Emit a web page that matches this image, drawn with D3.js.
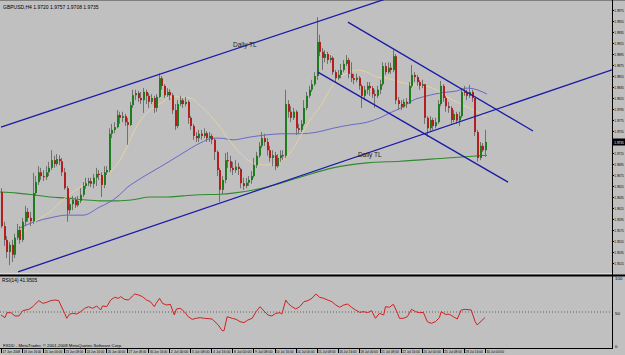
<!DOCTYPE html>
<html>
<head>
<meta charset="utf-8">
<script src="https://cdn.jsdelivr.net/npm/d3@7/dist/d3.min.js"></script>
<style>
  body { margin: 0; background: #c0c0c0; }
  svg { display: block; font-family: "Liberation Sans", Arial, sans-serif; }
  .narrow { font-family: "Liberation Sans Narrow", "Liberation Sans", Arial, sans-serif; }
</style>
</head>
<body>
<svg id="chart" width="625" height="355"></svg>
<script>
// GBPUSD H4, 17 Jun - 30 Jul 2008
var symbol = "GBPUSD,H4";
var firstOpen = 1.9644;

var closes = [
  1.9582,1.9557,1.9535,1.9548,1.9530,1.9561,1.9575,1.9557,1.9590,1.9608,
  1.9597,1.9591,1.9642,1.9662,1.9680,1.9673,1.9671,1.9680,1.9688,1.9702,
  1.9695,1.9704,1.9700,1.9680,1.9651,1.9611,1.9622,1.9630,1.9620,1.9628,
  1.9639,1.9655,1.9660,1.9664,1.9659,1.9670,1.9677,1.9675,1.9657,1.9680,
  1.9684,1.9750,1.9757,1.9762,1.9784,1.9779,1.9782,1.9771,1.9766,1.9802,
  1.9820,1.9824,1.9815,1.9811,1.9826,1.9819,1.9808,1.9815,1.9797,1.9817,
  1.9851,1.9837,1.9820,1.9826,1.9820,1.9793,1.9764,1.9804,1.9811,1.9804,
  1.9808,1.9779,1.9764,1.9746,1.9742,1.9750,1.9746,1.9751,1.9742,1.9746,
  1.9739,1.9717,1.9684,1.9648,1.9666,1.9702,1.9700,1.9688,1.9684,1.9690,
  1.9686,1.9660,1.9655,1.9661,1.9666,1.9673,1.9693,1.9710,1.9728,1.9742,
  1.9735,1.9720,1.9706,1.9711,1.9691,1.9706,1.9711,1.9710,1.9804,1.9790,
  1.9779,1.9790,1.9760,1.9757,1.9768,1.9797,1.9819,1.9830,1.9840,1.9855,
  1.9917,1.9899,1.9888,1.9895,1.9884,1.9888,1.9862,1.9851,1.9857,1.9866,
  1.9877,1.9884,1.9859,1.9851,1.9848,1.9852,1.9837,1.9819,1.9830,1.9837,
  1.9833,1.9822,1.9819,1.9830,1.9840,1.9873,1.9862,1.9870,1.9866,1.9891,
  1.9811,1.9804,1.9799,1.9808,1.9805,1.9837,1.9857,1.9853,1.9844,1.9837,
  1.9840,1.9779,1.9760,1.9775,1.9764,1.9771,1.9804,1.9837,1.9815,1.9800,
  1.9797,1.9775,1.9786,1.9774,1.9782,1.9826,1.9825,1.9819,1.9826,1.9815,
  1.9753,1.9706,1.9728,1.9720,1.9735];

var highs = [
  1.9651,1.9590,1.9564,1.9553,1.9557,1.9568,1.9586,1.9582,1.9597,1.9619,
  1.9615,1.9608,1.9679,1.9673,1.9691,1.9688,1.9684,1.9691,1.9699,1.9720,
  1.9710,1.9713,1.9711,1.9706,1.9688,1.9655,1.9633,1.9637,1.9635,1.9637,
  1.9651,1.9662,1.9670,1.9670,1.9670,1.9677,1.9688,1.9684,1.9680,1.9691,
  1.9691,1.9760,1.9768,1.9771,1.9793,1.9790,1.9790,1.9786,1.9779,1.9808,
  1.9830,1.9830,1.9828,1.9826,1.9833,1.9830,1.9824,1.9822,1.9819,1.9822,
  1.9860,1.9855,1.9840,1.9833,1.9831,1.9824,1.9804,1.9811,1.9819,1.9815,
  1.9817,1.9811,1.9782,1.9768,1.9753,1.9757,1.9757,1.9760,1.9755,1.9753,
  1.9750,1.9742,1.9720,1.9688,1.9673,1.9715,1.9717,1.9710,1.9699,1.9702,
  1.9697,1.9688,1.9670,1.9670,1.9673,1.9682,1.9706,1.9717,1.9735,1.9753,
  1.9750,1.9742,1.9728,1.9720,1.9717,1.9713,1.9720,1.9720,1.9830,1.9811,
  1.9800,1.9797,1.9793,1.9768,1.9775,1.9811,1.9826,1.9837,1.9848,1.9862,
  1.9962,1.9930,1.9906,1.9902,1.9899,1.9893,1.9891,1.9866,1.9866,1.9877,
  1.9884,1.9893,1.9888,1.9880,1.9859,1.9859,1.9855,1.9840,1.9837,1.9844,
  1.9844,1.9837,1.9830,1.9837,1.9848,1.9880,1.9879,1.9880,1.9879,1.9902,
  1.9895,1.9817,1.9811,1.9813,1.9815,1.9844,1.9875,1.9862,1.9857,1.9848,
  1.9848,1.9840,1.9782,1.9782,1.9779,1.9779,1.9811,1.9846,1.9840,1.9819,
  1.9808,1.9800,1.9793,1.9790,1.9790,1.9833,1.9837,1.9830,1.9839,1.9830,
  1.9815,1.9757,1.9735,1.9733,1.9757];

var lows = [
  1.9579,1.9546,1.9524,1.9511,1.9517,1.9524,1.9557,1.9550,1.9553,1.9582,
  1.9590,1.9582,1.9586,1.9637,1.9657,1.9666,1.9664,1.9666,1.9673,1.9684,
  1.9688,1.9691,1.9693,1.9673,1.9648,1.9590,1.9604,1.9611,1.9615,1.9617,
  1.9624,1.9635,1.9650,1.9655,1.9653,1.9651,1.9655,1.9666,1.9635,1.9651,
  1.9675,1.9680,1.9742,1.9751,1.9760,1.9768,1.9771,1.9764,1.9730,1.9764,
  1.9797,1.9811,1.9808,1.9804,1.9788,1.9804,1.9797,1.9804,1.9788,1.9790,
  1.9815,1.9830,1.9815,1.9817,1.9811,1.9786,1.9757,1.9760,1.9800,1.9797,
  1.9800,1.9768,1.9757,1.9739,1.9735,1.9735,1.9739,1.9742,1.9735,1.9735,
  1.9731,1.9702,1.9673,1.9626,1.9640,1.9660,1.9688,1.9680,1.9675,1.9679,
  1.9675,1.9651,1.9648,1.9651,1.9655,1.9659,1.9670,1.9688,1.9706,1.9724,
  1.9728,1.9710,1.9699,1.9691,1.9684,1.9688,1.9699,1.9702,1.9706,1.9779,
  1.9771,1.9775,1.9748,1.9750,1.9753,1.9764,1.9793,1.9815,1.9826,1.9837,
  1.9848,1.9891,1.9866,1.9880,1.9877,1.9879,1.9857,1.9844,1.9848,1.9851,
  1.9862,1.9873,1.9851,1.9844,1.9840,1.9844,1.9830,1.9797,1.9811,1.9822,
  1.9819,1.9815,1.9797,1.9815,1.9822,1.9837,1.9857,1.9859,1.9859,1.9862,
  1.9804,1.9793,1.9793,1.9797,1.9797,1.9804,1.9833,1.9844,1.9837,1.9830,
  1.9833,1.9768,1.9744,1.9753,1.9757,1.9760,1.9768,1.9800,1.9808,1.9790,
  1.9788,1.9768,1.9771,1.9768,1.9764,1.9779,1.9819,1.9811,1.9815,1.9808,
  1.9746,1.9699,1.9702,1.9717,1.9708];

// moving averages: [bar, price]
var maFast = [[7.2,1.9566],[13.7,1.9593],[18.6,1.9608],[23.6,1.9630],[30,1.9653],[37.6,1.9671],
  [41.4,1.9679],[45.2,1.9702],[47.9,1.9726],[50.2,1.9751],[54,1.9780],[57.8,1.9797],[61.6,1.9808],
  [64.3,1.9817],[68.1,1.9817],[71.9,1.9815],[75.7,1.9802],[79.5,1.9784],[83.3,1.9762],[85.9,1.9744],
  [90.9,1.9715],[95.8,1.9697],[101.1,1.9693],[106.1,1.9699],[109.9,1.9715],[113.7,1.9744],
  [117.5,1.9775],[121.3,1.9799],[125.1,1.9830],[127.8,1.9848],[131.6,1.9860],[135.4,1.9866],
  [139.2,1.9862],[143,1.9853],[146.8,1.9851],[151.7,1.9844],[156.7,1.9839],[163.1,1.9835],
  [169.6,1.9817],[175.7,1.9802],[181,1.9790],[184.8,1.9780]];
var maMid = [[7.2,1.9579],[12.9,1.9590],[18.6,1.9597],[25.1,1.9602],[31.2,1.9602],[37.6,1.9617],
  [41.4,1.9626],[44.1,1.9635],[48.7,1.9655],[50.2,1.9660],[56.7,1.9679],[63.1,1.9697],[69.2,1.9715],
  [75.7,1.9733],[80.6,1.9742],[83.3,1.9742],[88.2,1.9739],[94.7,1.9744],[101.1,1.9748],
  [107.2,1.9750],[113.7,1.9750],[120.2,1.9753],[126.2,1.9760],[132.7,1.9766],[139.2,1.9771],
  [144.1,1.9779],[147.9,1.9788],[152.9,1.9799],[156.7,1.9811],[160.5,1.9817],[166.9,1.9824],
  [173.4,1.9828],[177.2,1.9833],[181,1.9830],[184.8,1.9822]];
var maSlow = [[-0.4,1.9644],[6.1,1.9642],[12.2,1.9639],[18.6,1.9635],[25.1,1.9633],[31.2,1.9630],
  [37.6,1.9628],[44.1,1.9628],[50.2,1.9630],[56.7,1.9635],[63.1,1.9635],[69.2,1.9637],[75.7,1.9639],
  [83.3,1.9640],[88.2,1.9642],[101.1,1.9653],[113.7,1.9671],[126.2,1.9688],[139.2,1.9697],
  [151.7,1.9700],[169.6,1.9706],[184.8,1.9711]];

// drawn trend lines: [bar, price] end points
var tlUpper = [[0, 1.9762], [150, 2.0001]];
var tlLower = [[6.5, 1.9499], [232.3, 1.9866]];
var chanTop = [[131.9, 1.9953], [202.3, 1.9755]];
var chanBottom = [[120.5, 1.9862], [192.8, 1.9662]];
var tlLabels = [[88.2, 1.9908, "Daily TL"], [135.7, 1.9708, "Daily TL"]];

// RSI(14) as read: [bar, value]
var rsiPoints = [[0,45.7],[1.5,41.9],[2.3,49],[3.8,49],[5.3,44.3],[6.8,44.3],[8.3,51.9],[10.6,53.8],
  [12.1,57.6],[12.9,61],[14.4,66.2],[15.9,62.4],[17.4,63.8],[18.9,66.2],[20.5,67.1],[22,66.2],
  [22.7,60],[24.2,48.1],[25,41],[26,46.7],[27.3,48.1],[28.8,47.1],[30.3,50.5],[31.8,55.2],
  [33.3,57.6],[34.8,55.2],[36.4,58.6],[37.9,52.9],[38.6,58.6],[40.2,57.6],[41.7,67.1],[43.2,71],
  [44.7,69.5],[45.5,71.9],[47,68.1],[48.5,67.1],[50,72.9],[50.8,75.7],[52.3,74.3],[53.8,71.9],
  [55.3,67.1],[56.8,64.8],[58.3,57.6],[59,62.4],[60.3,69.5],[61.4,62.4],[62.9,60],[64.4,61],
  [65.9,45.7],[66.7,54.3],[68.2,55.2],[69.7,50.5],[71.2,43.3],[72.7,39.5],[74.2,41],[75.8,41.9],
  [77.3,41],[80.3,40],[82.6,31.4],[84.1,23.3],[84.8,23.3],[86,43.3],[87.9,41],[89.4,39.5],
  [90.9,36.2],[92.4,34.8],[93.9,38.6],[95.5,41],[97,50.5],[98.5,57.6],[100,51.4],[101.5,45.7],
  [103,44.3],[104.5,48.1],[106.1,49],[106.8,47.1],[108.3,67.1],[109.1,62.4],[110.6,57.6],
  [112.1,54.3],[113.6,57.6],[115.2,64.8],[116.7,66.2],[118.2,69.5],[119.7,75.7],[121.2,71],
  [122.7,69.5],[124.2,67.1],[125.8,64.8],[127.3,60],[128.8,56.7],[130.3,60],[131.8,61.4],
  [133.3,56.7],[134.8,52.9],[136.4,49.5],[137.9,50.5],[139.4,49],[140.9,51.9],[142.4,41],
  [143.9,48.1],[145.5,45.7],[146.2,57.6],[147.7,56.7],[149.2,61],[150.8,48.1],[151.5,41],
  [153,41],[154.5,43.3],[156.1,53.8],[157.6,50.5],[159.1,49],[160.6,49.5],[162.1,36.2],
  [163.6,33.8],[165.2,36.2],[166.7,41.9],[167.4,50.5],[168.9,46.7],[170.5,46.7],[172,43.3],
  [173.5,40],[175,52.9],[176.5,53.8],[178.8,52.9],[180.3,36.2],[181.1,31.4],[182.6,37.1],
  [184,41.9505]];

var priceTicks = [1.9975,1.9955,1.9935,1.9915,1.9895,1.9875,1.9855,1.9835,1.9815,1.9795,1.9775,
  1.9755,1.9735,1.9715,1.9695,1.9675,1.9655,1.9635,1.9615,1.9595,1.9575,1.9555,1.9535,1.9515];
var rsiTicks = [100, 50, 0];
var timeLabels = ["17 Jun 2008","18 Jun 16:00","20 Jun 00:00","23 Jun 08:00","24 Jun 16:00",
  "26 Jun 00:00","27 Jun 08:00","30 Jun 16:00","2 Jul 00:00","3 Jul 08:00","4 Jul 16:00",
  "8 Jul 00:00","9 Jul 08:00","10 Jul 16:00","14 Jul 00:00","15 Jul 08:00","16 Jul 16:00",
  "18 Jul 00:00","21 Jul 08:00","22 Jul 16:00","24 Jul 00:00","25 Jul 08:00","28 Jul 16:00",
  "30 Jul 00:00"];
var barsPerLabel = 8;

var svg = d3.select("#chart");
var axisX = 612;
var mainBottom = 274;

var x = d3.scaleLinear().domain([0, 184]).range([1, 484.9]);
var y = d3.scaleLinear().domain([1.9975, 1.9535]).range([10, 252]);
var yr = d3.scaleLinear().domain([0, 100]).range([347, 277]);

var defs = svg.append("defs");
defs.append("clipPath").attr("id", "clipMain")
  .append("rect").attr("x", 0).attr("y", 0).attr("width", axisX).attr("height", mainBottom);
defs.append("clipPath").attr("id", "clipRsi")
  .append("rect").attr("x", 0).attr("y", 277).attr("width", axisX).attr("height", 71);

svg.append("rect").attr("width", 625).attr("height", 355).attr("fill", "#c0c0c0");
svg.append("line").attr("x1", 0).attr("x2", 625).attr("y1", 0.5).attr("y2", 0.5).attr("stroke", "#808080");

var main = svg.append("g").attr("clip-path", "url(#clipMain)");

// moving averages
var maLine = d3.line().x(function(d){return x(d[0]);}).y(function(d){return y(d[1]);}).curve(d3.curveMonotoneX);
main.append("path").datum(maSlow).attr("d", maLine).attr("fill", "none").attr("stroke", "#2f8a2f").attr("stroke-width", 1.1);
main.append("path").datum(maMid).attr("d", maLine).attr("fill", "none").attr("stroke", "#5f5fc8").attr("stroke-width", 0.9);
main.append("path").datum(maFast).attr("d", maLine).attr("fill", "none").attr("stroke", "#e4d49c").attr("stroke-width", 1);

// candles
var bars = closes.map(function(c, i) {
  var o = i === 0 ? firstOpen : closes[i - 1];
  return {i: i, o: o, c: c, h: Math.max(highs[i], o, c), l: Math.min(lows[i], o, c)};
});
var candle = main.selectAll("g.candle").data(bars).enter().append("g").attr("class", "candle");
candle.append("line")
  .attr("x1", function(d){return Math.round(x(d.i)) + 0.5;})
  .attr("x2", function(d){return Math.round(x(d.i)) + 0.5;})
  .attr("y1", function(d){return y(d.h);})
  .attr("y2", function(d){return y(d.l);})
  .attr("stroke", "#707070").attr("stroke-width", 1);
candle.append("rect")
  .attr("x", function(d){return Math.round(x(d.i));})
  .attr("width", 2)
  .attr("y", function(d){return y(Math.max(d.o, d.c));})
  .attr("height", function(d){return Math.max(1, Math.abs(y(d.o) - y(d.c)));})
  .attr("fill", function(d){return d.c >= d.o ? "#1e7b1e" : "#b41e1e";});

// trend lines
var tl = d3.line().x(function(d){return x(d[0]);}).y(function(d){return y(d[1]);});
[tlUpper, tlLower, chanTop, chanBottom].forEach(function(seg) {
  main.append("path").datum(seg).attr("d", tl).attr("fill", "none")
    .attr("stroke", "#1a1aa6").attr("stroke-width", 1.3);
});
main.selectAll("text.tl").data(tlLabels).enter().append("text").attr("class", "tl")
  .attr("x", function(d){return x(d[0]);}).attr("y", function(d){return y(d[1]);})
  .attr("font-size", 6.5).attr("fill", "#1e1e1e").text(function(d){return d[2];});

// title
svg.append("text").attr("x", 3).attr("y", 9).attr("font-size", 5).attr("fill", "#000")
  .text(symbol + "  " + closes[183].toFixed(4) + " " + highs[184].toFixed(4) + " " +
        lows[184].toFixed(4) + " " + closes[184].toFixed(4));

// price axis (labels squeezed into the 12px strip)
svg.append("line").attr("x1", axisX + 0.5).attr("x2", axisX + 0.5).attr("y1", 0).attr("y2", 349).attr("stroke", "#000");
var pt = svg.selectAll("g.pt").data(priceTicks).enter().append("g").attr("class", "pt");
pt.append("line").attr("x1", axisX).attr("x2", axisX + 2)
  .attr("y1", function(d){return Math.round(y(d)) + 0.5;}).attr("y2", function(d){return Math.round(y(d)) + 0.5;})
  .attr("stroke", "#000");
pt.append("text").attr("class", "narrow").attr("x", axisX + 2.3).attr("y", function(d){return y(d) + 1.5;})
  .attr("font-size", 3.9).attr("fill", "#000")
  .attr("textLength", 9.5).attr("lengthAdjust", "spacingAndGlyphs")
  .text(function(d){return d.toFixed(4);});
var last = closes[closes.length - 1];
svg.append("rect").attr("x", axisX + 1).attr("y", y(last) - 3.5).attr("width", 625 - axisX - 1).attr("height", 7).attr("fill", "#000");
svg.append("text").attr("class", "narrow").attr("x", axisX + 2.3).attr("y", y(last) + 1.5).attr("font-size", 3.9).attr("fill", "#fff")
  .attr("textLength", 9.5).attr("lengthAdjust", "spacingAndGlyphs").text(last.toFixed(4));

// separator
svg.append("line").attr("x1", 0).attr("x2", axisX).attr("y1", 273.5).attr("y2", 273.5).attr("stroke", "#dcdcdc");
svg.append("line").attr("x1", 0).attr("x2", 625).attr("y1", 275.5).attr("y2", 275.5).attr("stroke", "#000").attr("stroke-width", 2);

// RSI window
var rsi = svg.append("g").attr("clip-path", "url(#clipRsi)");
rsi.append("line").attr("x1", 0).attr("x2", axisX).attr("y1", yr(50)).attr("y2", yr(50))
  .attr("stroke", "#606060").attr("stroke-dasharray", "1,2");
rsi.append("path").datum(rsiPoints)
  .attr("d", d3.line().x(function(d){return x(d[0]);}).y(function(d){return yr(d[1]);}))
  .attr("fill", "none").attr("stroke", "#d22020").attr("stroke-width", 1);
svg.append("text").attr("x", 2).attr("y", 282).attr("font-size", 4.8).attr("fill", "#000")
  .text("RSI(14) " + rsiPoints[rsiPoints.length - 1][1].toFixed(4));
svg.selectAll("text.rt").data(rsiTicks).enter().append("text").attr("class", "rt")
  .attr("x", axisX + 3).attr("y", function(d){return Math.min(yr(d) + 2.5, 347.5);})
  .attr("font-size", 4.4).attr("fill", "#000").text(function(d){return d;});
svg.append("text").attr("x", 3).attr("y", 346.5).attr("font-size", 4.3).attr("fill", "#000")
  .text("FXDD - MetaTrader, \u00a9 2001-2008 MetaQuotes Software Corp.");

// time axis (each label fitted into its 8-bar slot)
svg.append("line").attr("x1", 0).attr("x2", axisX).attr("y1", 348.5).attr("y2", 348.5).attr("stroke", "#000");
var slot = x(barsPerLabel) - x(0);
var tt = svg.selectAll("g.tt").data(timeLabels).enter().append("g").attr("class", "tt");
tt.append("line")
  .attr("x1", function(d, i){return Math.round(x(i * barsPerLabel)) + 0.5;})
  .attr("x2", function(d, i){return Math.round(x(i * barsPerLabel)) + 0.5;})
  .attr("y1", 348).attr("y2", 353).attr("stroke", "#000");
tt.append("text").attr("class", "narrow").attr("x", function(d, i){return x(i * barsPerLabel) + 1.5;}).attr("y", 353.2)
  .attr("font-size", 3.6).attr("fill", "#000")
  .attr("textLength", function(d){return Math.min(slot - 3.5, d.length * 1.6);})
  .attr("lengthAdjust", "spacingAndGlyphs")
  .text(function(d){return d;});
</script>
</body>
</html>
